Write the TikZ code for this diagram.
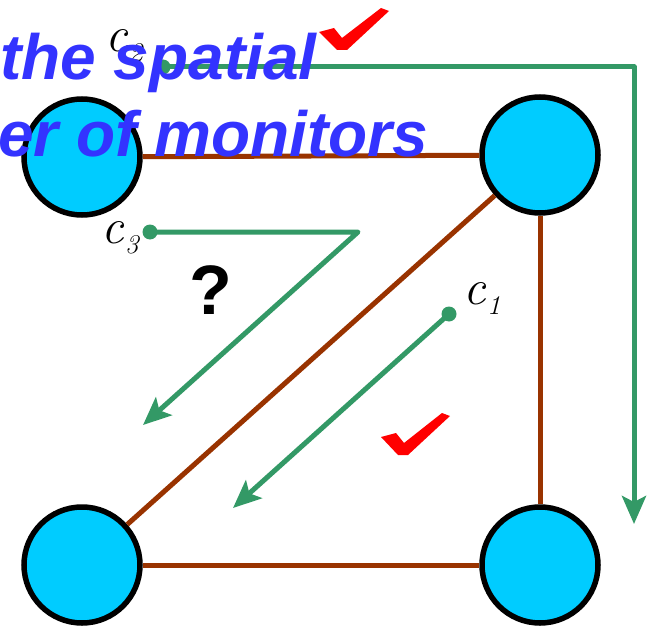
\documentclass[tikz,border=0pt]{standalone}
\usepackage{fontspec}
\setsansfont{Liberation Sans}
\usetikzlibrary{arrows.meta}
\definecolor{nodecyan}{HTML}{00CCFF}
\definecolor{edgebrown}{HTML}{993300}
\definecolor{pathgreen}{HTML}{339966}
\definecolor{titleblue}{HTML}{3333FF}
\newcommand{\clab}[1]{{\fontsize{50}{50}\selectfont\itshape c}\kern1pt\raisebox{-10pt}{\fontsize{27}{27}\selectfont\itshape #1}}
\tikzset{
  monitor/.style={circle,draw=black,line width=5.5pt,fill=nodecyan,minimum size=116pt,inner sep=0pt},
  link/.style={draw=edgebrown,line width=5pt},
  route/.style={draw=pathgreen,line width=5pt,line cap=round,line join=round,-{Stealth[length=28pt,width=24pt,inset=6pt]}},
  clabel/.style={inner sep=0pt},
  title/.style={font=\sffamily\bfseries\itshape\fontsize{64}{64}\selectfont,text=titleblue,inner sep=0pt,anchor=base west},
  tick/.style={fill=red,draw=none}
}
\begin{document}
\begin{tikzpicture}[x=1pt,y=-1pt]
\useasboundingbox (0,0) rectangle (648,626);
% monitors
\node[monitor] (tl) at (82,157) {};
\node[monitor] (tr) at (540,155) {};
\node[monitor] (bl) at (82,565) {};
\node[monitor] (br) at (540,565) {};
% links
\draw[link] (tl) -- (tr);
\draw[link] (tr) -- (br);
\draw[link] (bl) -- (br);
\draw[link] (tr) -- (bl);
% paths
\coordinate (c2s) at (163,67);
\coordinate (c2a) at (634,67);
\coordinate (c2e) at (634,524);
\coordinate (c3s) at (150,232);
\coordinate (c3a) at (358,232);
\coordinate (c3e) at (143,425);
\coordinate (c1s) at (449,314);
\coordinate (c1e) at (233,508);
\fill[pathgreen] (c2s) circle (7.5pt) (c3s) circle (7.5pt) (c1s) circle (7.5pt);
\draw[route] (c2s) -- (c2a) -- (c2e);
\draw[route] (c3s) -- (c3a) -- (c3e);
\draw[route] (c1s) -- (c1e);
% labels
\node[clabel] (l2) at (124,46) {\clab{2}};
\node[clabel] (l3) at (120,238) {\clab{3}};
\node[clabel] (l1) at (482,298) {\clab{1}};
\node[font=\sffamily\bfseries\fontsize{70}{70}\selectfont,inner sep=0pt] (q) at (211,290) {?};
% check marks
\fill[tick] (319,32) -- (334,28) -- (342,38) -- (381,8) -- (389,11) -- (347,50) -- (337,50) -- cycle;
\fill[tick] (381,437) -- (396,433) -- (404,443) -- (442,413) -- (450,416) -- (408,455) -- (398,455) -- cycle;
% title
\node[title] (t1) at (0,79) {the spatial};
\node[title] (t2) at (-2,156) {er of monitors};
\end{tikzpicture}
\end{document}
